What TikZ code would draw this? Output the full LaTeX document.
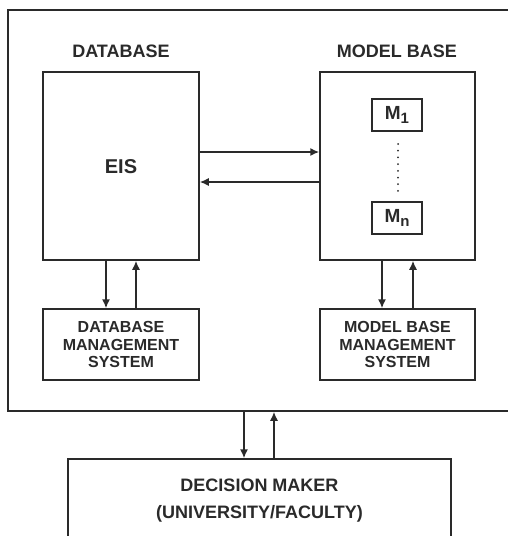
\documentclass[tikz,border=0pt]{standalone}
\usepackage{fontspec}
\setmainfont{Liberation Sans}
\usetikzlibrary{arrows.meta}
\definecolor{ink}{HTML}{2A2A2A}
\tikzset{
  box/.style={draw=ink, line width=1.5pt, inner sep=0pt, text=ink, font=\bfseries},
  smalltxt/.style={font=\fontsize{16}{17.5}\selectfont\bfseries, align=center, text=ink},
  head/.style={font=\fontsize{18}{20}\selectfont\bfseries, text=ink, inner sep=0pt},
  arr/.style={draw=ink, line width=1.5pt, -{Latex[length=9pt,width=8pt]}},
}
\newcommand{\msub}[1]{M\raisebox{-4.5pt}{\fontsize{15}{15}\selectfont #1}}
\begin{document}
\begin{tikzpicture}[x=1pt,y=-1pt]
\useasboundingbox[fill=white] (0,0) rectangle (507,536);
% outer frame (right edge off the picture)
\node[box, minimum width=512pt, minimum height=401pt] (outer) at (264,210.5) {};
\node[head] (dbh) at (121,51) {DATABASE};
\node[head] (mbh) at (397,51) {MODEL BASE};
\node[box, minimum width=156pt, minimum height=188pt] (db) at (121,166) {};
\node[font=\fontsize{20}{22}\selectfont\bfseries, text=ink] (eis) at (121,167) {EIS};
\node[box, minimum width=155pt, minimum height=188pt] (mb) at (397.5,166) {};
\node[box, minimum width=50pt, minimum height=32pt, font=\fontsize{19}{20}\selectfont\bfseries] (m1) at (397,115) {\msub{1}};
\node[box, minimum width=50pt, minimum height=32pt, font=\fontsize{19}{20}\selectfont\bfseries] (mn) at (397,218) {\msub{n}};
\foreach \i in {0,...,7} \fill[ink] (398,{144+\i*6.7}) circle (1pt);
\node[box, minimum width=156pt, minimum height=71pt, smalltxt] (dbms) at (121,344.5) {DATABASE\\MANAGEMENT\\SYSTEM};
\node[box, minimum width=155pt, minimum height=71pt, smalltxt] (mbms) at (397.5,344.5) {MODEL BASE\\MANAGEMENT\\SYSTEM};
\node[box, minimum width=383pt, minimum height=110pt] (dm) at (259.5,514) {};
\node[smalltxt, font=\fontsize{18}{27}\selectfont\bfseries] (dmt) at (259.5,501) {DECISION MAKER\\(UNIVERSITY/FACULTY)};
% horizontal arrows
\draw[arr] ([yshift=14pt]db.east) -- ([yshift=14pt]mb.west);
\draw[arr] ([yshift=-16pt]mb.west) -- ([yshift=-16pt]db.east);
% database <-> dbms
\draw[arr] ([xshift=-15pt]db.south) -- ([xshift=-15pt]dbms.north);
\draw[arr] ([xshift=15pt]dbms.north) -- ([xshift=15pt]db.south);
% model base <-> mbms
\draw[arr] ([xshift=-15.5pt]mb.south) -- ([xshift=-15.5pt]mbms.north);
\draw[arr] ([xshift=15.5pt]mbms.north) -- ([xshift=15.5pt]mb.south);
% outer <-> decision maker
\coordinate (dl) at ([xshift=-15.5pt]dm.north);
\coordinate (dr) at ([xshift=14.5pt]dm.north);
\draw[arr] (dl |- outer.south) -- (dl);
\draw[arr] (dr) -- (dr |- outer.south);
\end{tikzpicture}
\end{document}
